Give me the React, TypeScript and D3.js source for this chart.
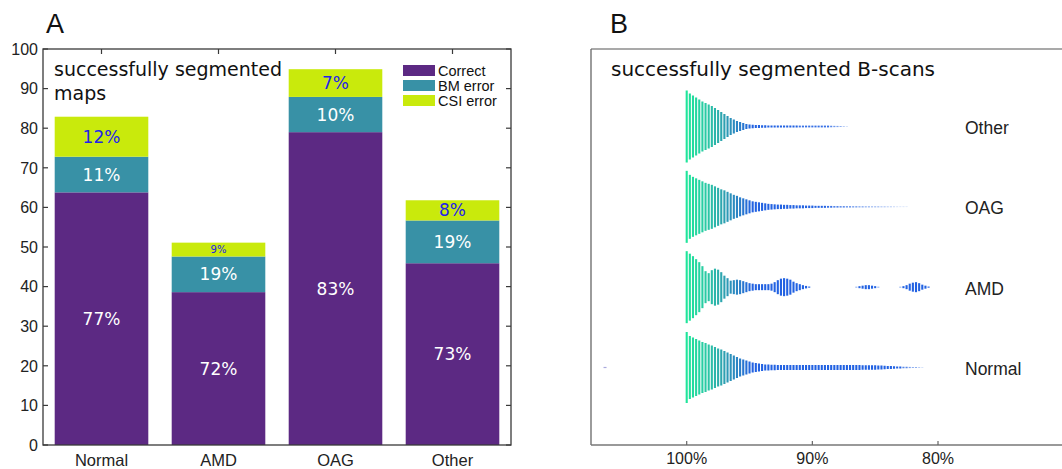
import React from 'react';
import * as d3 from 'd3';

// panel A: successfully segmented maps
const categories = ['Normal', 'AMD', 'OAG', 'Other'];
const correctValues = [63.8, 38.6, 79.0, 45.9];
const bmValues = [9.0, 9.0, 8.9, 10.8];
const csiValues = [10.1, 3.5, 7.0, 5.1];
const correctLabels = ['77%', '72%', '83%', '73%'];
const bmLabels = ['11%', '19%', '10%', '19%'];
const csiLabels = ['12%', '9%', '7%', '8%'];
const legendNames = ['Correct', 'BM error', 'CSI error'];
const yTicksA = [0, 10, 20, 30, 40, 50, 60, 70, 80, 90, 100];

// panel B: per-bin (0.25%) heights of the violins, starting at 100%
const binStart = 100;
const binStep = 0.25;
const normalHeights = [
  71, 63, 60, 57, 54, 51, 49, 46, 44, 41, 38, 36, 33, 30, 27, 24, 21, 18, 16, 14,
  12, 10, 9, 8, 7, 6, 6, 5.5, 5.5, 5, 5, 5, 5, 5, 5, 5, 5, 5, 5, 5,
  5, 5, 5, 5, 5, 5, 5, 5, 5, 5, 5, 5, 5, 5, 5, 5, 4.5, 4.5, 4.5, 4.5,
  4.5, 4, 4, 3.5, 3, 3, 2.5, 2, 2, 1.5, 1.5, 1.2, 1, 1, 0.8, 0.6,
];
const amdHeights = [
  72, 67, 62, 56, 50, 42, 32, 28, 34, 37, 35, 30, 23, 18, 13, 14, 15, 14, 12, 10,
  8, 7, 6, 6, 6, 6, 6, 7, 10, 14, 17, 18, 17, 15, 11, 8, 6, 4, 2.5, 1.5,
  0, 0, 0, 0, 0, 0, 0, 0, 0, 0, 0, 0, 0, 0, 1, 2, 3, 4, 4, 3,
  2, 1, 0, 0, 0, 0, 0, 0, 1, 2, 4, 7, 9, 10, 8, 5, 3, 1.5,
];
const oagHeights = [
  72, 64, 60, 57, 54, 51, 48, 46, 44, 41, 38, 35, 33, 30, 27, 24, 22, 19, 17, 15,
  13, 11, 10, 9, 8, 7, 6, 5.5, 5, 4.5, 4.5, 4, 4, 3.5, 3.5, 3, 3, 3, 2.5, 2.5,
  2.5, 2, 2, 2, 2, 1.8, 1.8, 1.6, 1.6, 1.5, 1.5, 1.4, 1.4, 1.3, 1.3, 1.2, 1.2, 1.1, 1.1, 1,
  1, 1, 0.9, 0.9, 0.8, 0.8, 0.7, 0.6, 0.5, 0.5, 0.4,
];
const otherHeights = [
  72, 66, 62, 58, 54, 50, 47, 44, 41, 37, 33, 29, 25, 21, 17, 14, 11, 9, 7, 5,
  4, 3.5, 3, 3, 2.5, 2.5, 2, 2, 2, 2, 2, 2, 2, 2, 2, 2, 1.8, 1.8, 1.8, 1.8,
  1.8, 1.8, 1.8, 1.8, 1.8, 1.8, 1.5, 1.3, 1.2, 1, 0.8, 0.6,
];
const normalOutlier = { value: 106.5, height: 1.2 };
const rowNames = ['Normal', 'AMD', 'OAG', 'Other'];
const rowHeights = [normalHeights, amdHeights, oagHeights, otherHeights];
const xTicksB = [100, 90, 80];

const purple = '#5c2983';
const teal = '#3891a6';
const lime = '#c9ea0c';
const labelBlue = '#2323e8';

export default function App() {
  // ----- panel A scales
  const xA = d3.scaleBand<string>().domain(categories).range([43, 511]).paddingInner(0.2).paddingOuter(0.1);
  const yA = d3.scaleLinear().domain([0, 100]).range([445, 49]);

  const table = categories.map((c, i) => ({ cat: c, correct: correctValues[i], bm: bmValues[i], csi: csiValues[i] }));
  const series = d3.stack<any>().keys(['correct', 'bm', 'csi'])(table);
  const fills = [purple, teal, lime];
  const labelSets = [correctLabels, bmLabels, csiLabels];

  // ----- panel B scales
  const xB = d3.scaleLinear().domain([100, 80]).range([686.7, 938]);
  const yB = d3.scalePoint<string>().domain(rowNames).range([367.5, 126.5]);
  const color = d3.scaleLinear<string>()
    .domain([100, 98.3, 97, 95.8, 94.8])
    .range(['#1fe59b', '#2bc6a5', '#2ea0b1', '#2b7fc8', '#2262e2'])
    .clamp(true);
  const barW = 2.1;

  const sans = 'Liberation Sans, Arial, sans-serif';
  const dejavu = 'DejaVu Sans, sans-serif';

  return (
    <svg width={1062} height={469} style={{ position: 'absolute', left: 0, top: 0, background: '#fff' }}>
      {/* ================= panel A ================= */}
      <text x={46} y={33} fontFamily={sans} fontSize={27} fill="#111">A</text>

      {series.map((s, k) => (
        <g key={k}>
          {s.map((d, i) => (
            <rect
              key={i}
              x={xA(categories[i])}
              y={yA(d[1])}
              width={xA.bandwidth()}
              height={yA(d[0]) - yA(d[1])}
              fill={fills[k]}
            />
          ))}
        </g>
      ))}

      {series.map((s, k) => (
        <g key={'l' + k}>
          {s.map((d, i) => {
            const small = k === 2 && d[1] - d[0] < 4;
            return (
              <text
                key={i}
                x={(xA(categories[i]) as number) + xA.bandwidth() / 2}
                y={(yA(d[0]) + yA(d[1])) / 2}
                dy="0.36em"
                textAnchor="middle"
                fontFamily={dejavu}
                fontSize={small ? 10 : 17}
                fill={k === 2 ? labelBlue : '#ffffff'}
              >
                {labelSets[k][i]}
              </text>
            );
          })}
        </g>
      ))}

      {/* frame and ticks */}
      <rect x={43} y={49} width={468} height={396} fill="none" stroke="#3a3a3a" strokeWidth={1.3} />
      {yTicksA.map((t) => (
        <g key={t}>
          <line x1={43} x2={48} y1={yA(t)} y2={yA(t)} stroke="#3a3a3a" strokeWidth={1.2} />
          <line x1={511} x2={506} y1={yA(t)} y2={yA(t)} stroke="#3a3a3a" strokeWidth={1.2} />
          <text x={38} y={yA(t)} dy="0.36em" textAnchor="end" fontFamily={sans} fontSize={16} fill="#222">
            {t}
          </text>
        </g>
      ))}
      {categories.map((c) => {
        const cx = (xA(c) as number) + xA.bandwidth() / 2;
        return (
          <g key={c}>
            <line x1={cx} x2={cx} y1={49} y2={54} stroke="#3a3a3a" strokeWidth={1.2} />
            <text x={cx} y={466} textAnchor="middle" fontFamily={sans} fontSize={16.5} fill="#222">
              {c}
            </text>
          </g>
        );
      })}

      <text fontFamily={dejavu} fontSize={19} fill="#111">
        <tspan x={54} y={76}>successfully segmented</tspan>
        <tspan x={54} y={100}>maps</tspan>
      </text>

      {/* legend */}
      {legendNames.map((n, k) => (
        <g key={n} transform={`translate(403,${65 + k * 15})`}>
          <rect x={0} y={0} width={32} height={11} fill={fills[k]} />
          <text x={35} y={5.5} dy="0.36em" fontFamily={sans} fontSize={14.5} fill="#111">
            {n}
          </text>
        </g>
      ))}

      {/* ================= panel B ================= */}
      <text x={610} y={33} fontFamily={sans} fontSize={27} fill="#111">B</text>
      <text x={611} y={76} fontFamily={dejavu} fontSize={20} fill="#111">successfully segmented B-scans</text>

      {rowNames.map((r, ri) => (
        <g key={r}>
          {rowHeights[ri].map((h, i) => {
            if (h <= 0) return null;
            const v = binStart - i * binStep;
            const cy = yB(r) as number;
            return (
              <rect
                key={i}
                x={xB(v) - barW / 2}
                y={cy - h / 2}
                width={barW}
                height={h}
                fill={color(v)}
                opacity={h < 2 ? Math.max(0.3, h / 2) : 1}
              />
            );
          })}
          <text x={965} y={(yB(r) as number) + 7.5} fontFamily={sans} fontSize={17.5} fill="#222">
            {r}
          </text>
        </g>
      ))}
      <rect
        x={xB(normalOutlier.value) - 1.5}
        y={(yB('Normal') as number) - normalOutlier.height / 2}
        width={3}
        height={normalOutlier.height}
        fill="#aaaadd"
      />

      <line x1={591} x2={1062} y1={49} y2={49} stroke="#555" strokeWidth={1.2} />
      <line x1={591} x2={591} y1={49} y2={445} stroke="#666" strokeWidth={1.3} />
      <line x1={591} x2={1062} y1={445} y2={445} stroke="#777" strokeWidth={1.5} />
      {xTicksB.map((t) => (
        <g key={t}>
          <line x1={xB(t)} x2={xB(t)} y1={445} y2={441} stroke="#666" strokeWidth={1.2} />
          <text x={xB(t)} y={464} textAnchor="middle" fontFamily={sans} fontSize={16} fill="#222">
            {t}%
          </text>
        </g>
      ))}
    </svg>
  );
}
